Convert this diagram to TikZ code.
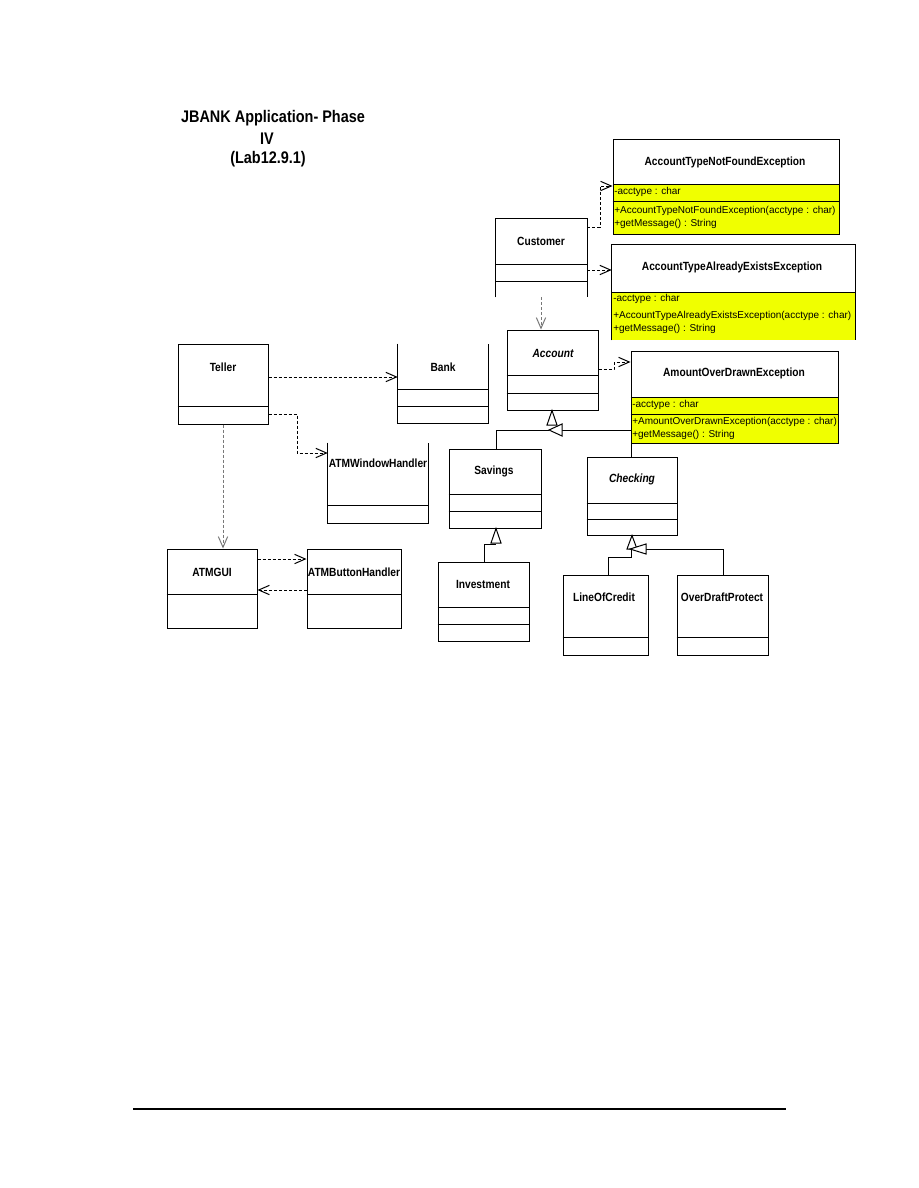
\documentclass[tikz,border=0pt]{standalone}
\usepackage{fontspec}
\setmainfont{Liberation Sans}
\newfontfamily\narrowsans[FakeStretch=0.86]{Liberation Sans}
\usetikzlibrary{arrows.meta,fit}
\definecolor{umlyellow}{RGB}{240,255,0}
\definecolor{lgray}{RGB}{120,120,120}
\newcommand\umlclass[6]{\node[fit={(#2,#3) (#4,#5)}, inner sep=0pt, #6] (#1) {};}
\begin{document}
\begin{tikzpicture}[x=0.75pt,y=-0.75pt,
  box/.style={draw, line width=0.75pt},
  nobox/.style={},
  edge/.style={line width=0.75pt},
  cname/.style={font=\narrowsans\fontsize{8.9}{10}\selectfont\bfseries, inner sep=0pt},
  aname/.style={font=\narrowsans\fontsize{8.9}{10}\selectfont\bfseries\itshape, inner sep=0pt},
  mem/.style={font=\fontsize{7.5}{9}\selectfont, anchor=west, inner sep=0pt},
  ttl/.style={font=\narrowsans\fontsize{12.6}{14}\selectfont\bfseries, inner sep=0pt},
  dep/.style={line width=0.75pt, dash pattern=on 2.25pt off 1.5pt, -{Straight Barb[length=8pt,width=7pt]}},
  gdep/.style={dep, draw=lgray},
  gen/.style={line width=0.75pt},
  tri/.style={line width=0.75pt, fill=white, draw=black}
]
\useasboundingbox (0,0) rectangle (918,1188);

% title
\node[ttl] (t1) at (273,118) {JBANK Application- Phase};
\node[ttl] (t2) at (267,139) {IV};
\node[ttl] (t3) at (268,159) {(Lab12.9.1)};

% yellow compartments
\fill[umlyellow] (613,184) rectangle (839,234);
\fill[umlyellow] (612,292) rectangle (855,340);
\fill[umlyellow] (631,397) rectangle (838,443);

% AccountTypeNotFoundException
\umlclass{atnfe}{613}{139}{839}{234}{box}
\draw[edge] (atnfe.west |- 0,184) -- (atnfe.east |- 0,184);
\draw[edge] (atnfe.west |- 0,201) -- (atnfe.east |- 0,201);
\node[cname] (atnfe-n) at (725,162) {AccountTypeNotFoundException};
\node[mem] (atnfe-a) at (614,192) {-acctype : char};
\node[mem] (atnfe-o1) at (614,211) {+AccountTypeNotFoundException(acctype : char)};
\node[mem] (atnfe-o2) at (614,224) {+getMessage() : String};

% AccountTypeAlreadyExistsException (no bottom border)
\umlclass{ataee}{612}{245}{855}{340}{nobox}
\draw[edge] (ataee.south west) -- (ataee.north west) -- (ataee.north east) -- (ataee.south east);
\draw[edge] (ataee.west |- 0,292) -- (ataee.east |- 0,292);
\node[cname] (ataee-n) at (732,267) {AccountTypeAlreadyExistsException};
\node[mem] (ataee-a) at (613,299) {-acctype : char};
\node[mem] (ataee-o1) at (613,316) {+AccountTypeAlreadyExistsException(acctype : char)};
\node[mem] (ataee-o2) at (613,329) {+getMessage() : String};

% AmountOverDrawnException
\umlclass{aode}{631}{351}{838}{443}{box}
\draw[edge] (aode.west |- 0,397) -- (aode.east |- 0,397);
\draw[edge] (aode.west |- 0,414) -- (aode.east |- 0,414);
\node[cname] (aode-n) at (734,373) {AmountOverDrawnException};
\node[mem] (aode-a) at (632,405) {-acctype : char};
\node[mem] (aode-o1) at (632,422) {+AmountOverDrawnException(acctype : char)};
\node[mem] (aode-o2) at (632,435) {+getMessage() : String};

% Customer (no bottom border)
\umlclass{cust}{496}{219}{587}{297}{nobox}
\draw[edge] (cust.south west) -- (cust.north west) -- (cust.north east) -- (cust.south east);
\draw[edge] (cust.west |- 0,264) -- (cust.east |- 0,264);
\draw[edge] (cust.west |- 0,281) -- (cust.east |- 0,281);
\node[cname] (cust-n) at (541,241) {Customer};

% Account
\umlclass{acc}{507}{330}{598}{410}{box}
\draw[edge] (acc.west |- 0,375) -- (acc.east |- 0,375);
\draw[edge] (acc.west |- 0,393) -- (acc.east |- 0,393);
\node[aname] (acc-n) at (553,353) {Account};

% Teller
\umlclass{teller}{178}{344}{268}{424}{box}
\draw[edge] (teller.west |- 0,406) -- (teller.east |- 0,406);
\node[cname] (teller-n) at (223,367) {Teller};

% Bank (no top border)
\umlclass{bank}{398}{344}{488}{423}{nobox}
\draw[edge] (bank.north west) -- (bank.south west) -- (bank.south east) -- (bank.north east);
\draw[edge] (bank.west |- 0,389) -- (bank.east |- 0,389);
\draw[edge] (bank.west |- 0,406) -- (bank.east |- 0,406);
\node[cname] (bank-n) at (443,367) {Bank};

% ATMWindowHandler (no top border)
\umlclass{atmwh}{328}{443}{428}{523}{nobox}
\draw[edge] (atmwh.north west) -- (atmwh.south west) -- (atmwh.south east) -- (atmwh.north east);
\draw[edge] (atmwh.west |- 0,505) -- (atmwh.east |- 0,505);
\node[cname] (atmwh-n) at (378,463) {ATMWindowHandler};

% ATMGUI
\umlclass{atmgui}{167}{549}{257}{628}{box}
\draw[edge] (atmgui.west |- 0,594) -- (atmgui.east |- 0,594);
\node[cname] (atmgui-n) at (212,572) {ATMGUI};

% ATMButtonHandler
\umlclass{atmbh}{307}{549}{401}{628}{box}
\draw[edge] (atmbh.west |- 0,594) -- (atmbh.east |- 0,594);
\node[cname] (atmbh-n) at (354,572) {ATMButtonHandler};

% Savings
\umlclass{sav}{449}{449}{541}{528}{box}
\draw[edge] (sav.west |- 0,494) -- (sav.east |- 0,494);
\draw[edge] (sav.west |- 0,511) -- (sav.east |- 0,511);
\node[cname] (sav-n) at (494,471) {Savings};

% Checking
\umlclass{chk}{587}{457}{677}{535}{box}
\draw[edge] (chk.west |- 0,503) -- (chk.east |- 0,503);
\draw[edge] (chk.west |- 0,519) -- (chk.east |- 0,519);
\node[aname] (chk-n) at (632,479) {Checking};

% Investment
\umlclass{inv}{438}{562}{529}{641}{box}
\draw[edge] (inv.west |- 0,607) -- (inv.east |- 0,607);
\draw[edge] (inv.west |- 0,624) -- (inv.east |- 0,624);
\node[cname] (inv-n) at (483,584) {Investment};

% LineOfCredit
\umlclass{loc}{563}{575}{648}{655}{box}
\draw[edge] (loc.west |- 0,637) -- (loc.east |- 0,637);
\node[cname] (loc-n) at (604,597) {LineOfCredit};

% OverDraftProtect
\umlclass{odp}{677}{575}{768}{655}{box}
\draw[edge] (odp.west |- 0,637) -- (odp.east |- 0,637);
\node[cname] (odp-n) at (722,597) {OverDraftProtect};

% dependencies
\draw[dep] (cust.east |- 0,227) -- (600,227) -- (600,186) -- (atnfe.west |- 0,186);
\draw[dep] (cust.east |- 0,270) -- (ataee.west |- 0,270);
\draw[gdep] (cust.south -| 541,0) -- (acc.north -| 541,0);
\draw[dep] (acc.east |- 0,369) -- (614,369) -- (614,362) -- (aode.west |- 0,362);
\draw[dep] (teller.east |- 0,377) -- (bank.west |- 0,377);
\draw[dep] (teller.east |- 0,414) -- (297,414) -- (297,453) -- (atmwh.west |- 0,453);
\draw[gdep] (teller.south -| 223,0) -- (atmgui.north -| 223,0);
\draw[dep] (atmgui.east |- 0,559) -- (atmbh.west |- 0,559);
\draw[dep] (atmbh.west |- 0,590) -- (atmgui.east |- 0,590);

% generalizations to Account
\draw[gen] (sav.north -| 496,0) -- (496,430) -- (549,430);
\draw[gen] (chk.north -| 631,0) -- (631,430) -- (562,430);
\draw[tri] (acc.south -| 552,0) -- (547,425) -- (557,425) -- cycle;
\draw[tri] (549,430) -- (562,424) -- (562,436) -- cycle;

% Investment -> Savings
\draw[gen] (inv.north -| 484,0) -- (484,544) -- (496,544);
\draw[tri] (sav.south -| 496,0) -- (491,543) -- (501,543) -- cycle;

% LineOfCredit, OverDraftProtect -> Checking
\draw[gen] (loc.north -| 608,0) -- (608,557) -- (631,557) -- (631,550);
\draw[gen] (odp.north -| 723,0) -- (723,549) -- (646,549);
\draw[tri] (chk.south -| 632,0) -- (627,549) -- (637,549) -- cycle;
\draw[tri] (630,549) -- (646,544) -- (646,554) -- cycle;

% bottom rule
\coordinate (ruleL) at (133,1109);
\coordinate (ruleR) at (786,1109);
\draw[line width=0.9pt] (ruleL) -- (ruleR);
\end{tikzpicture}
\end{document}
